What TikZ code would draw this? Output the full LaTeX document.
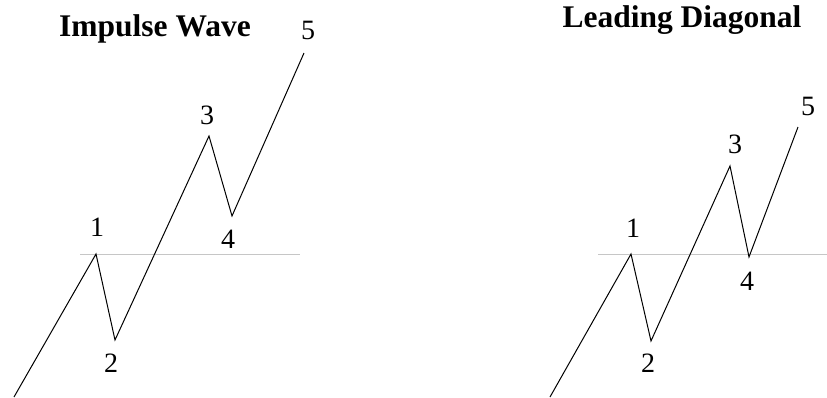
\documentclass[tikz,border=0pt]{standalone}
\usepackage{fontspec}
\setmainfont{Liberation Serif}
\begin{document}
\begin{tikzpicture}[x=1pt, y=-1pt,
  wave/.style={black, line width=1pt, line join=miter},
  level/.style={gray!45, line width=1pt},
  count/.style={font=\fontsize{28}{28}\selectfont, inner sep=0pt},
  heading/.style={font=\fontsize{31.5}{31.5}\selectfont\bfseries, inner sep=0pt, anchor=base}]

  \useasboundingbox (0,0) rectangle (827,397);

  % ---- impulse wave ----
  \node[heading] (imptitle) at (155,36) {Impulse Wave};
  \coordinate (i0) at (14,397);
  \coordinate (i1) at (96,254);
  \coordinate (i2) at (115,340);
  \coordinate (i3) at (209,136);
  \coordinate (i4) at (232,216);
  \coordinate (i5) at (304,53);
  \coordinate (ilevA) at (80,254);
  \coordinate (ilevB) at (300,254);
  \draw[level] (ilevA) -- (ilevB);
  \draw[wave] (i0) -- (i1) -- (i2) -- (i3) -- (i4) -- (i5);
  \node[count] (icnt1) at (97,227) {1};
  \node[count] (icnt2) at (111,363) {2};
  \node[count] (icnt3) at (207,115) {3};
  \node[count] (icnt4) at (228,239) {4};
  \node[count] (icnt5) at (308,30) {5};

  % ---- leading diagonal ----
  \node[heading] (diagtitle) at (682,27) {Leading Diagonal};
  \coordinate (d0) at (550,397);
  \coordinate (d1) at (631,254);
  \coordinate (d2) at (651,341);
  \coordinate (d3) at (730,166);
  \coordinate (d4) at (749,257);
  \coordinate (d5) at (798,127);
  \coordinate (dlevA) at (598,254);
  \coordinate (dlevB) at (827,254);
  \draw[level] (dlevA) -- (dlevB);
  \draw[wave] (d0) -- (d1) -- (d2) -- (d3) -- (d4) -- (d5);
  \node[count] (dcnt1) at (633,228) {1};
  \node[count] (dcnt2) at (648,363) {2};
  \node[count] (dcnt3) at (735,144) {3};
  \node[count] (dcnt4) at (747,281) {4};
  \node[count] (dcnt5) at (808,106) {5};

\end{tikzpicture}
\end{document}
